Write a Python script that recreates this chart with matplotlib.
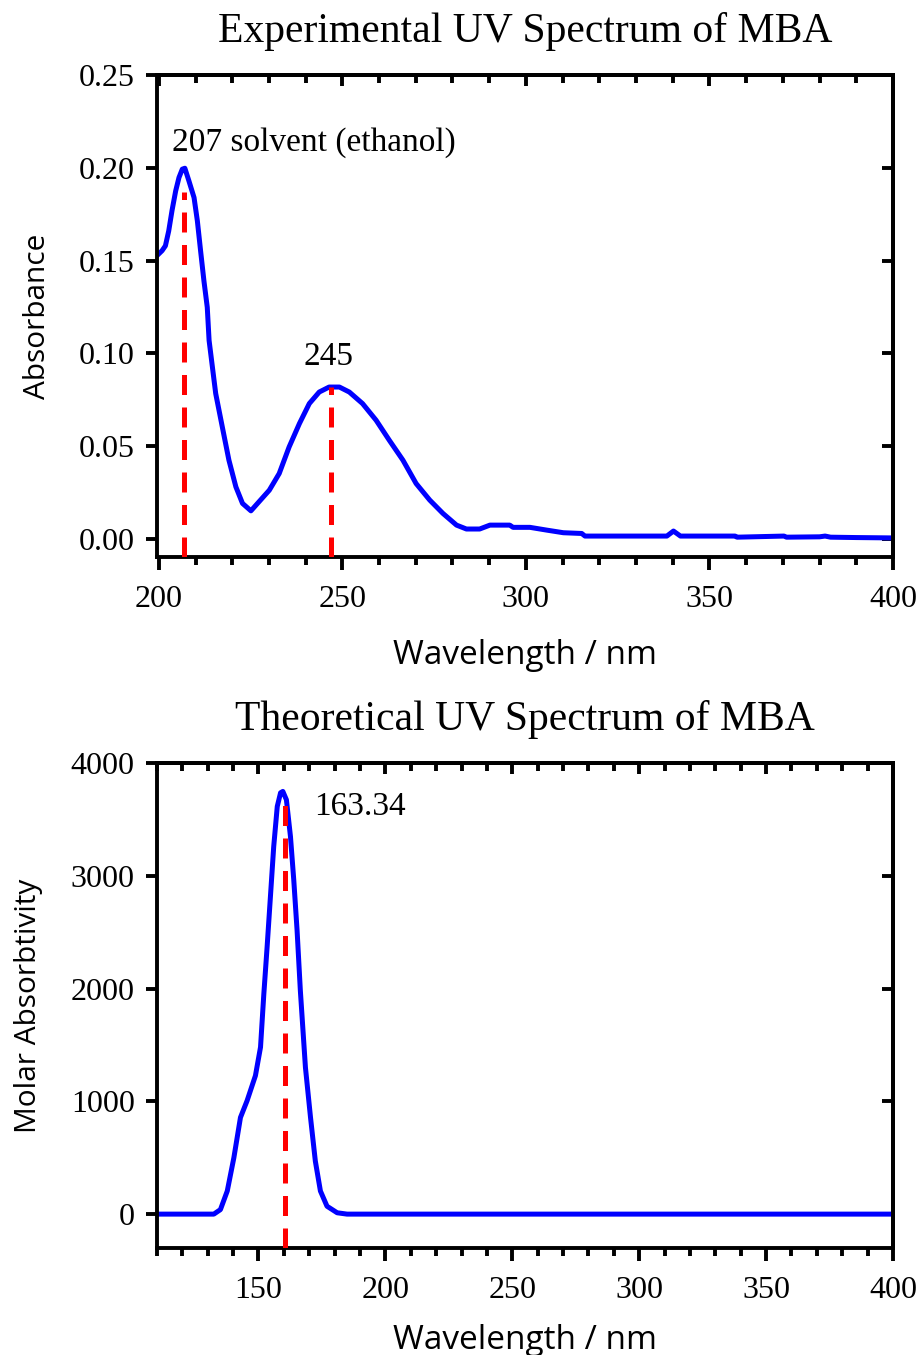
import matplotlib
matplotlib.use("Agg")
import matplotlib.pyplot as plt
from matplotlib.ticker import MultipleLocator, FormatStrFormatter

# ---------------- data ----------------
exp_wavelength = [199.5, 200.9, 201.8, 202.7, 203.6, 204.6, 205.5, 206.4, 207.1, 208.2, 209.6,
                  210.5, 211.4, 212.3, 213.2, 213.7, 215.5, 217.3, 219.1, 221.0, 222.8, 225.1,
                  227.3, 230.1, 232.8, 235.5, 238.3, 241.0, 243.7, 246.4, 249.2, 251.9, 255.5,
                  259.2, 262.8, 266.5, 270.1, 273.8, 277.4, 281.1, 283.8, 287.4, 290.2, 295.6,
                  296.5, 301.1, 305.7, 310.2, 315.2, 316.1, 338.4, 340.2, 342.1, 357.0, 357.5,
                  370.3, 371.0, 380.0, 381.5, 383.0, 390.0, 400.0]
exp_absorbance = [0.1527, 0.1554, 0.158, 0.166, 0.177, 0.1876, 0.1948, 0.1993, 0.1998, 0.193, 0.184,
                  0.1715, 0.155, 0.139, 0.1249, 0.107, 0.0784, 0.0604, 0.0425, 0.0281, 0.0192, 0.0152,
                  0.0201, 0.0263, 0.0353, 0.0496, 0.0622, 0.073, 0.0792, 0.0819, 0.0819, 0.0792, 0.073,
                  0.064, 0.0532, 0.0425, 0.0299, 0.021, 0.0138, 0.0075, 0.0054, 0.0054, 0.0075, 0.0075,
                  0.0063, 0.0063, 0.0048, 0.0034, 0.0030, 0.0016, 0.0016, 0.0043, 0.0016, 0.0016, 0.0010,
                  0.0016, 0.0010, 0.0012, 0.0016, 0.0010, 0.0008, 0.0006]

theo_wavelength = [110, 125, 132.4, 135.0, 137.7, 140.3, 142.9, 145.5, 148.8, 150.8, 152.1,
                   153.4, 154.7, 156.0, 157.4, 158.7, 159.6, 161.0, 162.6, 163.9, 165.2,
                   166.5, 168.5, 170.5, 172.4, 174.4, 177.0, 181.0, 184.9, 200, 300, 400]
theo_molar = [0, 0, 0, 40, 205, 500, 857, 1005, 1228, 1480, 1950,
              2370, 2814, 3259, 3615, 3736, 3748, 3674, 3348, 2963, 2518,
              1980, 1300, 857, 470, 205, 70, 12, 0, 0, 0, 0]

exp_peaks_x = [207, 247]
exp_peaks_top = [0.187, 0.082]
exp_labels = ["207 solvent (ethanol)", "245"]
theo_peak_x = 160.6
theo_peak_top = 3680
theo_label = "163.34"

serif = ["Liberation Serif", "DejaVu Serif"]
sans = ["Open Sans", "DejaVu Sans"]

plt.rcParams["font.family"] = serif
plt.rcParams["xtick.labelsize"] = 23
plt.rcParams["ytick.labelsize"] = 23

fig = plt.figure(figsize=(9.19, 13.55), dpi=100)
LW = 2.8


def style_axes(ax):
    for s in ax.spines.values():
        s.set_linewidth(LW)
    ax.tick_params(axis="x", which="major", direction="out", length=9, width=LW,
                   bottom=True, top=False, pad=11)
    ax.tick_params(axis="x", which="minor", direction="out", length=6, width=LW,
                   bottom=True, top=False)
    ax.tick_params(axis="y", which="major", direction="out", length=8, width=LW,
                   left=True, right=False, pad=8)
    ax.tick_params(axis="y", which="minor", left=False, right=False)
    sx = ax.secondary_xaxis("top")
    sx.xaxis.set_major_locator(MultipleLocator(50))
    sx.xaxis.set_minor_locator(MultipleLocator(10))
    sx.tick_params(which="major", direction="in", length=8, width=LW, labeltop=False)
    sx.tick_params(which="minor", direction="in", length=6, width=LW)
    sx.spines["top"].set_linewidth(LW)
    sy = ax.secondary_yaxis("right")
    sy.yaxis.set_major_locator(ax.yaxis.get_major_locator())
    sy.tick_params(which="major", direction="in", length=8, width=LW, labelright=False)
    sy.tick_params(which="minor", right=False)
    sy.spines["right"].set_linewidth(LW)


dash = (0, (4, 2.5))

# ---------------- top panel ----------------
ax1 = fig.add_axes([0.1708, 0.5889, 0.8009, 0.3557])
ax1.plot(exp_wavelength, exp_absorbance, color="#0000ff", lw=3.6, zorder=2)
for xp, yt in zip(exp_peaks_x, exp_peaks_top):
    ax1.plot([xp, xp], [-0.0097, yt], color="#ff0000", lw=3.6, ls=dash, zorder=3)
ax1.set_xlim(199.5, 400)
ax1.set_ylim(-0.0097, 0.25)
ax1.xaxis.set_major_locator(MultipleLocator(50))
ax1.xaxis.set_minor_locator(MultipleLocator(10))
ax1.yaxis.set_major_locator(MultipleLocator(0.05))
ax1.yaxis.set_major_formatter(FormatStrFormatter("%.2f"))
style_axes(ax1)
ax1.text(203.5, 0.2134, exp_labels[0], fontsize=24, ha="left", va="center")
ax1.text(246.2, 0.098, exp_labels[1], fontsize=24, ha="center", va="center")
ax1.set_title("Experimental UV Spectrum of MBA", fontsize=30, pad=24)
ax1.set_xlabel("Wavelength / nm", fontsize=24, family=sans, labelpad=18)
ax1.set_ylabel("Absorbance", fontsize=21.5, family=sans, labelpad=19)

# ---------------- bottom panel ----------------
ax2 = fig.add_axes([0.1708, 0.0790, 0.8009, 0.3579])
ax2.plot(theo_wavelength, theo_molar, color="#0000ff", lw=3.6, zorder=2)
ax2.plot([theo_peak_x, theo_peak_x], [-300, theo_peak_top], color="#ff0000", lw=3.6,
         ls=dash, zorder=3)
ax2.set_xlim(110, 400)
ax2.set_ylim(-300, 4000)
ax2.xaxis.set_major_locator(MultipleLocator(50))
ax2.xaxis.set_minor_locator(MultipleLocator(10))
ax2.yaxis.set_major_locator(MultipleLocator(1000))
style_axes(ax2)
ax2.text(190, 3610, theo_label, fontsize=24, ha="center", va="center")
ax2.set_title("Theoretical UV Spectrum of MBA", fontsize=30, pad=24)
ax2.set_xlabel("Wavelength / nm", fontsize=24, family=sans, labelpad=14)
ax2.set_ylabel("Molar Absorbtivity", fontsize=21.5, family=sans, labelpad=20)

fig.savefig("out.png", dpi=100)
